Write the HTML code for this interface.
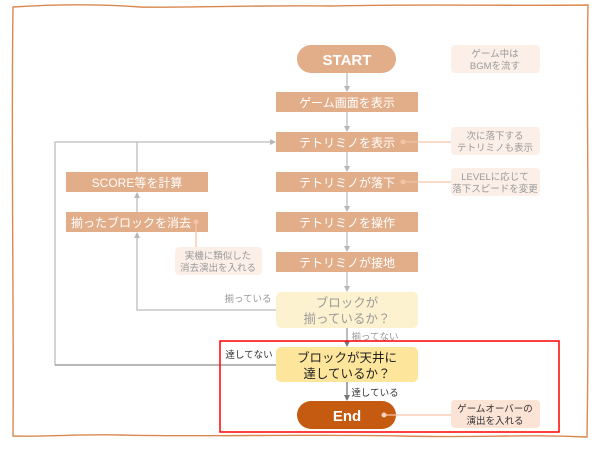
<!DOCTYPE html>
<html><head><meta charset="utf-8"><style>
html,body{margin:0;padding:0;background:#fff;width:600px;height:450px;overflow:hidden}
svg{display:block}
text{font-family:"Liberation Sans","Noto Sans CJK JP",sans-serif}
</style></head><body>
<svg width="600" height="450" viewBox="0 0 600 450">
<defs>
<marker id="ag" markerWidth="6" markerHeight="6" refX="5" refY="3" orient="auto" markerUnits="userSpaceOnUse"><path d="M0,0 L6,3 L0,6z" fill="#b8b8b8"/></marker>
<marker id="ad" markerWidth="6" markerHeight="6" refX="5" refY="3" orient="auto" markerUnits="userSpaceOnUse"><path d="M0,0 L6,3 L0,6z" fill="#777"/></marker>
</defs>
<path d="M13,7 C60,4 100,4 140,7 C180,8 260,5 330,6 C420,4 500,6 588,5 C586,100 590,250 587,437 C520,434 480,438 400,436 C300,434 200,437 120,435 C80,434 40,437 13,436 C14,300 11,150 13,7z" fill="none" stroke="#d9894f" stroke-width="1.4"/>
<g stroke="#bcbcbc" stroke-width="1.3" fill="none">
<line x1="347" y1="73" x2="347" y2="91" marker-end="url(#ag)"/>
<line x1="347" y1="112" x2="347" y2="131" marker-end="url(#ag)"/>
<line x1="347" y1="152" x2="347" y2="171" marker-end="url(#ag)"/>
<line x1="347" y1="192" x2="347" y2="211" marker-end="url(#ag)"/>
<line x1="347" y1="232" x2="347" y2="251" marker-end="url(#ag)"/>
<line x1="347" y1="272" x2="347" y2="291" marker-end="url(#ag)"/>
<line x1="347" y1="328" x2="347" y2="346" marker-end="url(#ad)" stroke="#999"/>
<polyline points="276,365 55,365 55,142 275,142" marker-end="url(#ag)"/>
<line x1="137" y1="172" x2="137" y2="142"/>
<line x1="137" y1="212" x2="137" y2="193" marker-end="url(#ag)"/>
<polyline points="276,310 137,310 137,233" marker-end="url(#ag)"/>
</g>
<line x1="347" y1="382" x2="347" y2="400" stroke="#777" stroke-width="1.3" marker-end="url(#ad)"/>
<line x1="55" y1="365" x2="276" y2="365" stroke="#999" stroke-width="1.3"/>
<rect x="297" y="45" width="99" height="28" rx="14" fill="#e2ad89"/>
<text x="347" y="65" font-size="15" font-weight="bold" fill="#fff" text-anchor="middle">START</text>
<g fill="#e2ad89">
<rect x="276" y="92" width="142" height="20"/><rect x="276" y="132" width="142" height="20"/>
<rect x="276" y="172" width="142" height="20"/><rect x="276" y="212" width="142" height="20"/>
<rect x="276" y="252" width="142" height="20"/>
<rect x="66" y="172" width="142" height="20"/><rect x="66" y="212" width="142" height="20"/>
</g>
<g fill="#fff" font-size="12" text-anchor="middle">
<text x="347" y="107">ゲーム画面を表示</text><text x="347" y="147">テトリミノを表示</text>
<text x="347" y="187">テトリミノが落下</text><text x="347" y="227">テトリミノを操作</text>
<text x="347" y="267">テトリミノが接地</text>
<text x="137" y="187">SCORE等を計算</text><text x="131" y="227">揃ったブロックを消去</text>
</g>
<rect x="276" y="292" width="142" height="36" rx="5" fill="#fdf2cf"/>
<text x="347" y="307" font-size="12.5" fill="#9a9a9a" text-anchor="middle">ブロックが</text>
<text x="347" y="323" font-size="12.5" fill="#9a9a9a" text-anchor="middle">揃っているか？</text>
<rect x="276" y="347" width="142" height="35" rx="5" fill="#fde59b"/>
<text x="347" y="362" font-size="12.5" fill="#222" text-anchor="middle">ブロックが天井に</text>
<text x="347" y="378" font-size="12.5" fill="#222" text-anchor="middle">達しているか？</text>
<rect x="297" y="401" width="99" height="28" rx="14" fill="#c55a11"/>
<text x="347" y="421" font-size="15" font-weight="bold" fill="#fff" text-anchor="middle">End</text>
<g stroke="#f4c4a8" stroke-width="1.3">
<line x1="403" y1="142" x2="451" y2="142"/><line x1="403" y1="182" x2="451" y2="182"/>
<line x1="196" y1="222" x2="196" y2="247"/><line x1="384" y1="415" x2="451" y2="415"/>
</g>
<g fill="#f4c4a8"><circle cx="403" cy="142" r="2.5"/><circle cx="403" cy="182" r="2.5"/><circle cx="196" cy="222" r="2.5"/><circle cx="384" cy="415" r="2.5" fill="#f8d2bd"/></g>
<g fill="#fcefe8">
<rect x="451" y="45" width="89" height="28" rx="4"/><rect x="451" y="127" width="89" height="28" rx="4"/>
<rect x="451" y="168" width="89" height="28" rx="4"/><rect x="175" y="247" width="87" height="28" rx="4"/>
</g>
<rect x="451" y="400" width="89" height="28" rx="4" fill="#fbe3d6"/>
<g font-size="9.5" fill="#999" text-anchor="middle">
<text x="495" y="57">ゲーム中は</text><text x="495" y="69">BGMを流す</text>
<text x="495" y="139">次に落下する</text><text x="495" y="151">テトリミノも表示</text>
<text x="495" y="180">LEVELに応じて</text><text x="495" y="192">落下スピードを変更</text>
<text x="218" y="259">実機に類似した</text><text x="218" y="271">消去演出を入れる</text>
<text x="248" y="302">揃っている</text><text x="375" y="340">揃ってない</text>
</g>
<g font-size="9.5" fill="#333" text-anchor="middle">
<text x="495" y="412">ゲームオーバーの</text><text x="495" y="424">演出を入れる</text>
<text x="249" y="358">達してない</text><text x="375" y="396">達している</text>
</g>
<rect x="220" y="341" width="339" height="91" fill="none" stroke="#f00" stroke-width="1.5"/>
</svg>
</body></html>
